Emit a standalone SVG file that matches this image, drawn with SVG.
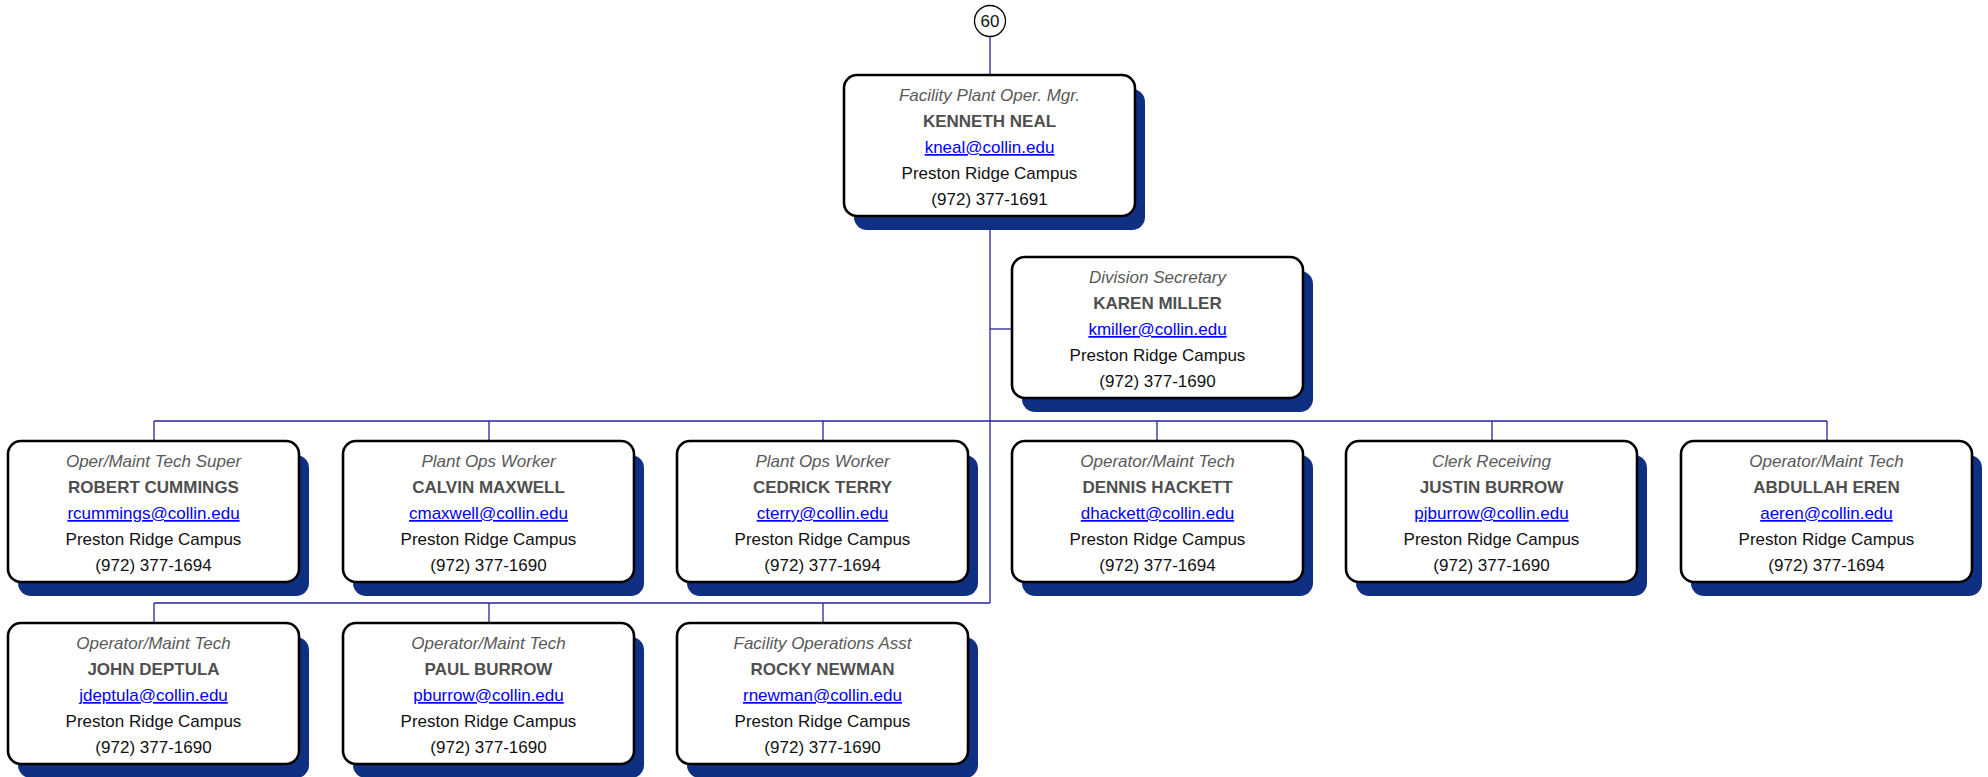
<svg xmlns="http://www.w3.org/2000/svg" width="1988" height="777" viewBox="0 0 1988 777">
<style>
.bg{fill:#ffffff}
.sh{fill:#0f2f82}
.bx{fill:#ffffff;stroke:#000000;stroke-width:2.6}
.t{font-family:"Liberation Sans",Arial,sans-serif;font-size:17px;text-anchor:middle}
.ti{font-style:italic;fill:#595959}
.nm{font-weight:bold;fill:#4f4f4f}
.em{fill:#0000ff;text-decoration:underline}
.tx{fill:#111111}
.cn{stroke:#24249a;stroke-width:1.3;fill:none}
</style>
<defs>
<g id="card">
<rect class="sh" x="10" y="14" width="291" height="141" rx="13"/>
<rect class="bx" x="0" y="0" width="291" height="141" rx="13"/>
</g>
</defs>
<rect class="bg" x="0" y="0" width="1988" height="777"/>
<g id="connectors">
<line class="cn" x1="990" y1="36" x2="990" y2="75"/>
<line class="cn" x1="990" y1="216" x2="990" y2="603"/>
<line class="cn" x1="990" y1="329" x2="1012" y2="329"/>
<line class="cn" x1="154" y1="421" x2="1827" y2="421"/>
<line class="cn" x1="154" y1="421" x2="154" y2="441"/>
<line class="cn" x1="489" y1="421" x2="489" y2="441"/>
<line class="cn" x1="823" y1="421" x2="823" y2="441"/>
<line class="cn" x1="1157" y1="421" x2="1157" y2="441"/>
<line class="cn" x1="1492" y1="421" x2="1492" y2="441"/>
<line class="cn" x1="1827" y1="421" x2="1827" y2="441"/>
<line class="cn" x1="154" y1="603" x2="990" y2="603"/>
<line class="cn" x1="154" y1="603" x2="154" y2="623"/>
<line class="cn" x1="489" y1="603" x2="489" y2="623"/>
<line class="cn" x1="823" y1="603" x2="823" y2="623"/>
</g>
<g id="page-ref">
<circle cx="990" cy="21" r="15.5" fill="#ffffff" stroke="#000000" stroke-width="1.3"/>
<text class="t tx" x="990" y="27">60</text>
</g>
<g id="n-kenneth" transform="translate(844,75)">
<use href="#card"/>
<text class="t ti" x="145.5" y="26">Facility Plant Oper. Mgr.</text>
<text class="t nm" x="145.5" y="52">KENNETH NEAL</text>
<text class="t em" x="145.5" y="78">kneal@collin.edu</text>
<text class="t tx" x="145.5" y="104">Preston Ridge Campus</text>
<text class="t tx" x="145.5" y="130">(972) 377-1691</text>
</g>
<g id="n-karen" transform="translate(1012,257)">
<use href="#card"/>
<text class="t ti" x="145.5" y="26">Division Secretary</text>
<text class="t nm" x="145.5" y="52">KAREN MILLER</text>
<text class="t em" x="145.5" y="78">kmiller@collin.edu</text>
<text class="t tx" x="145.5" y="104">Preston Ridge Campus</text>
<text class="t tx" x="145.5" y="130">(972) 377-1690</text>
</g>
<g id="n-robert" transform="translate(8,441)">
<use href="#card"/>
<text class="t ti" x="145.5" y="26">Oper/Maint Tech Super</text>
<text class="t nm" x="145.5" y="52">ROBERT CUMMINGS</text>
<text class="t em" x="145.5" y="78">rcummings@collin.edu</text>
<text class="t tx" x="145.5" y="104">Preston Ridge Campus</text>
<text class="t tx" x="145.5" y="130">(972) 377-1694</text>
</g>
<g id="n-calvin" transform="translate(343,441)">
<use href="#card"/>
<text class="t ti" x="145.5" y="26">Plant Ops Worker</text>
<text class="t nm" x="145.5" y="52">CALVIN MAXWELL</text>
<text class="t em" x="145.5" y="78">cmaxwell@collin.edu</text>
<text class="t tx" x="145.5" y="104">Preston Ridge Campus</text>
<text class="t tx" x="145.5" y="130">(972) 377-1690</text>
</g>
<g id="n-cedrick" transform="translate(677,441)">
<use href="#card"/>
<text class="t ti" x="145.5" y="26">Plant Ops Worker</text>
<text class="t nm" x="145.5" y="52">CEDRICK TERRY</text>
<text class="t em" x="145.5" y="78">cterry@collin.edu</text>
<text class="t tx" x="145.5" y="104">Preston Ridge Campus</text>
<text class="t tx" x="145.5" y="130">(972) 377-1694</text>
</g>
<g id="n-dennis" transform="translate(1012,441)">
<use href="#card"/>
<text class="t ti" x="145.5" y="26">Operator/Maint Tech</text>
<text class="t nm" x="145.5" y="52">DENNIS HACKETT</text>
<text class="t em" x="145.5" y="78">dhackett@collin.edu</text>
<text class="t tx" x="145.5" y="104">Preston Ridge Campus</text>
<text class="t tx" x="145.5" y="130">(972) 377-1694</text>
</g>
<g id="n-justin" transform="translate(1346,441)">
<use href="#card"/>
<text class="t ti" x="145.5" y="26">Clerk Receiving</text>
<text class="t nm" x="145.5" y="52">JUSTIN BURROW</text>
<text class="t em" x="145.5" y="78">pjburrow@collin.edu</text>
<text class="t tx" x="145.5" y="104">Preston Ridge Campus</text>
<text class="t tx" x="145.5" y="130">(972) 377-1690</text>
</g>
<g id="n-abdullah" transform="translate(1681,441)">
<use href="#card"/>
<text class="t ti" x="145.5" y="26">Operator/Maint Tech</text>
<text class="t nm" x="145.5" y="52">ABDULLAH EREN</text>
<text class="t em" x="145.5" y="78">aeren@collin.edu</text>
<text class="t tx" x="145.5" y="104">Preston Ridge Campus</text>
<text class="t tx" x="145.5" y="130">(972) 377-1694</text>
</g>
<g id="n-john" transform="translate(8,623)">
<use href="#card"/>
<text class="t ti" x="145.5" y="26">Operator/Maint Tech</text>
<text class="t nm" x="145.5" y="52">JOHN DEPTULA</text>
<text class="t em" x="145.5" y="78">jdeptula@collin.edu</text>
<text class="t tx" x="145.5" y="104">Preston Ridge Campus</text>
<text class="t tx" x="145.5" y="130">(972) 377-1690</text>
</g>
<g id="n-paul" transform="translate(343,623)">
<use href="#card"/>
<text class="t ti" x="145.5" y="26">Operator/Maint Tech</text>
<text class="t nm" x="145.5" y="52">PAUL BURROW</text>
<text class="t em" x="145.5" y="78">pburrow@collin.edu</text>
<text class="t tx" x="145.5" y="104">Preston Ridge Campus</text>
<text class="t tx" x="145.5" y="130">(972) 377-1690</text>
</g>
<g id="n-rocky" transform="translate(677,623)">
<use href="#card"/>
<text class="t ti" x="145.5" y="26">Facility Operations Asst</text>
<text class="t nm" x="145.5" y="52">ROCKY NEWMAN</text>
<text class="t em" x="145.5" y="78">rnewman@collin.edu</text>
<text class="t tx" x="145.5" y="104">Preston Ridge Campus</text>
<text class="t tx" x="145.5" y="130">(972) 377-1690</text>
</g>
</svg>
